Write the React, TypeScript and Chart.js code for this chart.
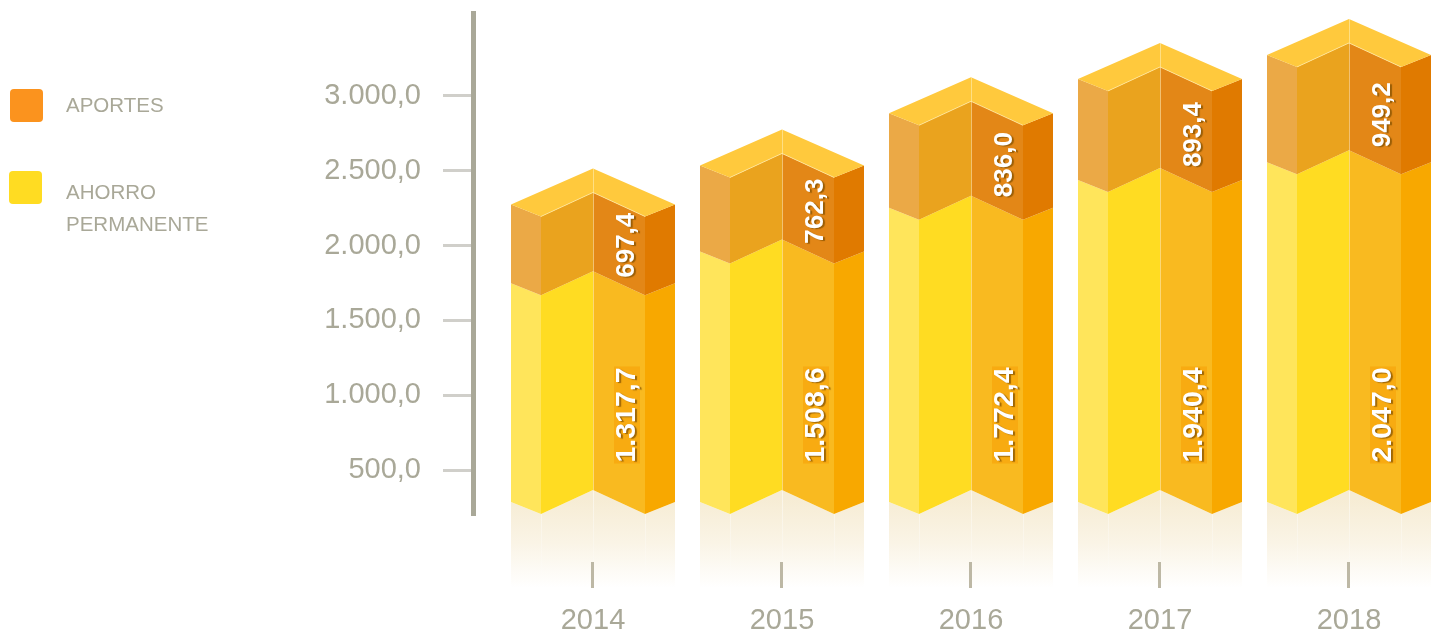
import React, { useEffect, useRef } from "react";
import { Chart, registerables } from "chart.js";

Chart.register(...registerables);

const years = [2014, 2015, 2016, 2017, 2018];
const ahorroPermanente = [1317.7, 1508.6, 1772.4, 1940.4, 2047.0];
const aportes = [697.4, 762.3, 836.0, 893.4, 949.2];
const yTicks = [500, 1000, 1500, 2000, 2500, 3000];
const aportesName = "APORTES";
const ahorroLines = ["AHORRO", "PERMANENTE"];

const FONT = '"Liberation Sans", Arial, sans-serif';
const GREY = "#A9A898";
const fmt = new Intl.NumberFormat("de-DE", { minimumFractionDigits: 1, maximumFractionDigits: 1 });

// faces are outer-left, inner-left, inner-right, outer-right
const ahorroFaces = ["#FFE55B", "#FFDC22", "#F9BA20", "#F8A800"];
const aportesFaces = ["#EBA946", "#EAA31E", "#E38717", "#E07A00"];
const ROOF = "#FFC93D";
const OUTER = 82;
const INNER = 52;
const DY_OUTER = 12;
const DY_INNER = 24;

function poly(ctx: CanvasRenderingContext2D, pts: number[][]) {
  ctx.beginPath();
  pts.forEach((p, i) => (i ? ctx.lineTo(p[0], p[1]) : ctx.moveTo(p[0], p[1])));
  ctx.closePath();
}

function drawBlock(ctx: CanvasRenderingContext2D, x: number, bottom: number, top: number, faces: string[]) {
  const col = [
    [x - OUTER, DY_OUTER, x - INNER, DY_INNER],
    [x - INNER, DY_INNER, x, 0],
    [x, 0, x + INNER, DY_INNER],
    [x + INNER, DY_INNER, x + OUTER, DY_OUTER],
  ];
  col.forEach((c, i) => {
    poly(ctx, [
      [c[0], top + c[1]],
      [c[2], top + c[3]],
      [c[2], bottom + c[3]],
      [c[0], bottom + c[1]],
    ]);
    ctx.fillStyle = faces[i];
    ctx.fill();
  });
}

const isoPlugin = {
  id: "iso",
  beforeDatasetsDraw(chart: any) {
    const { ctx } = chart;
    const xs = chart.scales.x;
    const mA = chart.getDatasetMeta(1).data;
    ctx.save();
    mA.forEach((el: any) => {
      const x = el.x;
      const b = el.base;
      const g = ctx.createLinearGradient(0, b + 8, 0, b + 98);
      g.addColorStop(0, "rgba(246,236,212,1)");
      g.addColorStop(0.5, "rgba(250,244,230,1)");
      g.addColorStop(1, "rgba(255,255,255,1)");
      poly(ctx, [
        [x - OUTER, b + DY_OUTER],
        [x - INNER, b + DY_INNER],
        [x, b],
        [x + INNER, b + DY_INNER],
        [x + OUTER, b + DY_OUTER],
        [x + OUTER, b + 98],
        [x - OUTER, b + 98],
      ]);
      ctx.fillStyle = g;
      ctx.fill();
      const g2 = ctx.createLinearGradient(0, b, 0, b + 96);
      g2.addColorStop(0, "rgba(255,255,255,0.55)");
      g2.addColorStop(1, "rgba(255,255,255,0)");
      ctx.strokeStyle = g2;
      ctx.lineWidth = 1;
      [x - INNER, x, x + INNER].forEach((lx, i) => {
        ctx.beginPath();
        ctx.moveTo(lx + 0.5, b + (i === 1 ? 0 : DY_INNER));
        ctx.lineTo(lx + 0.5, b + 96);
        ctx.stroke();
      });
    });
    // x axis tick marks sit lower than the axis line, over the reflections
    ctx.fillStyle = "#BDB8A5";
    years.forEach((yr) => {
      ctx.fillRect(xs.getPixelForValue(yr) - 2, 562, 3, 26);
    });
    ctx.restore();
  },
  afterDatasetsDraw(chart: any) {
    const { ctx } = chart;
    const mA = chart.getDatasetMeta(1).data;
    const mB = chart.getDatasetMeta(0).data;
    ctx.save();
    mA.forEach((el: any, i: number) => {
      const x = el.x;
      const bottom = el.base;
      const mid = el.y;
      const top = mid - (mB[i].base - mB[i].y);
      drawBlock(ctx, x, bottom, mid, ahorroFaces);
      drawBlock(ctx, x, mid, top, aportesFaces);
      // roof
      poly(ctx, [
        [x, top - DY_INNER],
        [x + OUTER, top + DY_OUTER],
        [x + INNER, top + DY_INNER],
        [x, top],
        [x - INNER, top + DY_INNER],
        [x - OUTER, top + DY_OUTER],
      ]);
      ctx.fillStyle = ROOF;
      ctx.fill();
      // thin light ridge and edges
      ctx.lineWidth = 1;
      ctx.strokeStyle = "rgba(255,240,190,0.55)";
      ctx.beginPath();
      ctx.moveTo(x + 0.5, top - DY_INNER);
      ctx.lineTo(x + 0.5, bottom);
      ctx.stroke();
      ctx.strokeStyle = "rgba(255,235,170,0.7)";
      ctx.beginPath();
      ctx.moveTo(x - INNER, top + DY_INNER);
      ctx.lineTo(x, top);
      ctx.lineTo(x + INNER, top + DY_INNER);
      ctx.stroke();

      // value labels
      const drawLabel = (text: string, cy: number, size: number, box: boolean) => {
        const lx = x + 33;
        ctx.save();
        ctx.font = `bold ${size}px ${FONT}`;
        const w = ctx.measureText(text).width;
        if (box) {
          ctx.fillStyle = "rgba(247,170,16,0.9)";
          ctx.fillRect(lx - 12, cy - w / 2 - 1, 26, w + 2);
        }
        ctx.translate(lx, cy);
        ctx.rotate(-Math.PI / 2);
        ctx.shadowColor = "rgba(130,80,0,0.75)";
        ctx.shadowOffsetX = 2;
        ctx.shadowOffsetY = 1;
        ctx.shadowBlur = 1;
        ctx.fillStyle = "#fff";
        ctx.textAlign = "center";
        ctx.textBaseline = "middle";
        ctx.fillText(text, 0, 1);
        ctx.restore();
      };
      drawLabel(fmt.format(ahorroPermanente[i]), bottom - 75, 28.5, true);
      drawLabel(fmt.format(aportes[i]), top + 0.67 * (mid - top), 26, false);
    });

    // legend
    const swatch = (x: number, y: number, c: string) => {
      ctx.beginPath();
      ctx.roundRect(x, y, 33, 33, 4);
      ctx.fillStyle = c;
      ctx.fill();
    };
    swatch(10, 89, "#FB931E");
    swatch(9, 171, "#FFDC22");
    ctx.font = `20.5px ${FONT}`;
    ctx.fillStyle = GREY;
    ctx.textAlign = "left";
    ctx.textBaseline = "alphabetic";
    ctx.fillText(aportesName, 66, 112);
    ctx.fillText(ahorroLines[0], 66, 199);
    ctx.fillText(ahorroLines[1], 66, 231);
    ctx.restore();
  },
};

export default function App() {
  const ref = useRef<HTMLCanvasElement | null>(null);
  useEffect(() => {
    if (!ref.current) return;
    const chart = new Chart(ref.current, {
      type: "bar",
      data: {
        datasets: [
          {
            label: aportesName,
            yAxisID: "yAportes",
            data: aportes.map((v, i) => ({ x: years[i], y: v })),
            backgroundColor: "rgba(0,0,0,0)",
          },
          {
            label: ahorroLines.join(" "),
            yAxisID: "yAhorro",
            data: ahorroPermanente.map((v, i) => ({ x: years[i], y: v })),
            backgroundColor: "rgba(0,0,0,0)",
          },
        ],
      },
      plugins: [isoPlugin],
      options: {
        animation: false,
        responsive: false,
        devicePixelRatio: 1,
        layout: { padding: { top: 13, left: 0, right: 0, bottom: 0 } },
        datasets: { bar: { grouped: false, barThickness: 164 } },
        plugins: { legend: { display: false }, tooltip: { enabled: false } },
        scales: {
          x: {
            type: "linear",
            offset: false,
            min: 2014 - 120 / 189,
            max: 2014 - 120 / 189 + 966 / 189,
            grid: { display: false, drawTicks: false },
            border: { display: false },
            afterBuildTicks: (s: any) => {
              s.ticks = years.map((value) => ({ value }));
            },
            afterFit: (s: any) => {
              s.height = 119;
              s.paddingLeft = 0;
              s.paddingRight = 0;
            },
            ticks: {
              autoSkip: false,
              maxRotation: 0,
              padding: 89,
              color: GREY,
              font: { family: FONT, size: 29 },
              callback: (v: any) => String(v),
            },
          },
          y: {
            position: "left",
            min: 199.2,
            max: 3554.8,
            afterBuildTicks: (s: any) => {
              s.ticks = yTicks.map((value) => ({ value }));
            },
            afterFit: (s: any) => {
              s.width = 473;
              s.paddingTop = 0;
              s.paddingBottom = 0;
            },
            grid: {
              drawOnChartArea: false,
              tickLength: 30,
              tickColor: "#D0CFCA",
              tickWidth: 3,
            },
            border: { color: GREY, width: 5 },
            ticks: {
              padding: 22,
              color: GREY,
              font: { family: FONT, size: 29 },
              callback: (v: any) => fmt.format(v),
            },
          },
          // The printed values are not drawn to the visible axis' scale in the
          // original, so each series has its own hidden scale with zero at the block foot.
          yAhorro: {
            display: false,
            min: -(25 / 0.166),
            max: 477 / 0.166,
          },
          yAportes: {
            display: false,
            min: -(25 / 0.113),
            max: 477 / 0.113,
          },
        },
      },
    } as any);
    return () => chart.destroy();
  }, []);
  return (
    <div style={{ position: "absolute", left: 0, top: 0, width: 1439, height: 634 }}>
      <canvas ref={ref} width={1439} height={634} style={{ display: "block" }} />
    </div>
  );
}
